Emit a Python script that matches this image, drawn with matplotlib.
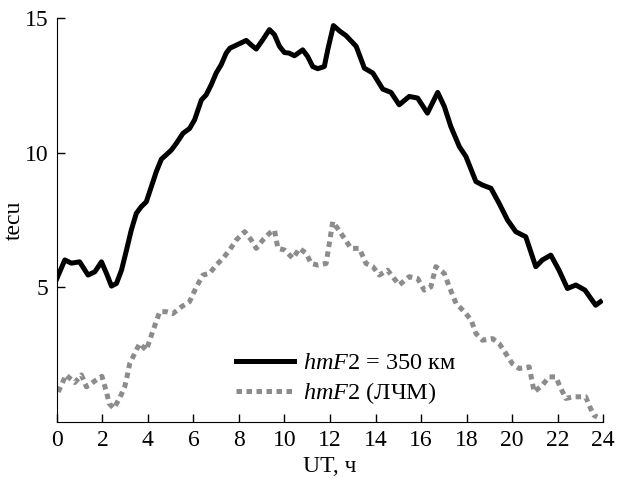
import matplotlib
matplotlib.use("Agg")
import matplotlib.pyplot as plt

plt.rcParams['font.family'] = ['Liberation Serif', 'DejaVu Serif']
plt.rcParams['mathtext.fontset'] = 'custom'
plt.rcParams['mathtext.rm'] = 'Liberation Serif'
plt.rcParams['mathtext.it'] = 'Liberation Serif:italic'

# hmF2 = 350 km
ut_350 = [0.0, 0.35, 0.64, 1.0, 1.37, 1.67, 1.96, 2.18, 2.4, 2.62, 2.84, 3.06, 3.27, 3.49,
          3.71, 3.93, 4.15, 4.37, 4.59, 4.8, 5.03, 5.25, 5.54, 5.83, 6.05, 6.35, 6.56, 6.78,
          7.0, 7.22, 7.44, 7.6, 7.9, 8.32, 8.54, 8.76, 9.05, 9.34, 9.56, 9.78, 10.0, 10.2,
          10.44, 10.8, 11.02, 11.24, 11.46, 11.75, 11.9, 12.15, 12.45, 12.7, 13.15, 13.51,
          13.88, 14.32, 14.68, 15.04, 15.48, 15.85, 16.28, 16.73, 17.02, 17.31, 17.68, 17.97,
          18.41, 18.7, 19.07, 19.43, 19.8, 20.16, 20.6, 21.04, 21.33, 21.7, 22.06, 22.43,
          22.8, 23.2, 23.67, 23.88]
tec_350 = [5.33, 6.02, 5.9, 5.95, 5.46, 5.58, 5.95, 5.52, 5.05, 5.15, 5.64, 6.39, 7.13, 7.75,
           8.0, 8.18, 8.74, 9.3, 9.76, 9.92, 10.1, 10.35, 10.72, 10.9, 11.22, 11.96, 12.15, 12.52,
           12.96, 13.27, 13.7, 13.88, 14.0, 14.17, 14.0, 13.85, 14.2, 14.57, 14.38, 13.95, 13.72, 13.7,
           13.6, 13.82, 13.57, 13.2, 13.12, 13.2, 13.82, 14.72, 14.5, 14.35, 13.95, 13.14,
           12.96, 12.36, 12.24, 11.78, 12.09, 12.03, 11.47, 12.24, 11.72, 10.97, 10.23, 9.86,
           8.93, 8.8, 8.68, 8.12, 7.5, 7.07, 6.88, 5.77, 6.02, 6.2, 5.64, 4.96,
           5.09, 4.9, 4.34, 4.47]

# hmF2 from chirp sounder (ЛЧМ)
ut_lfm = [0.06, 0.4, 0.79, 1.08, 1.3, 1.67, 1.98, 2.18, 2.3, 2.5, 2.76, 2.98, 3.1, 3.2, 3.49,
          3.64, 3.93, 4.23, 4.52, 4.81, 5.1, 5.47, 5.83, 6.13, 6.42, 6.71, 7.0, 7.3, 7.59, 7.88,
          8.25, 8.54, 8.76, 9.05, 9.34, 9.56, 9.71, 10.0, 10.37, 10.66, 10.96, 11.17, 11.46,
          11.83, 11.97, 12.12, 12.45, 12.92, 13.29, 13.58, 13.88, 14.17, 14.53, 15.04, 15.48,
          15.85, 16.14, 16.43, 16.65, 17.02, 17.24, 17.54, 17.9, 18.2, 18.41, 18.7, 19.14,
          19.43, 19.72, 20.01, 20.31, 20.75, 20.97, 21.33, 21.62, 21.92, 22.14, 22.36, 22.72,
          23.23, 23.45, 23.6, 23.74]
tec_lfm = [1.12, 1.75, 1.47, 1.75, 1.31, 1.53, 1.7, 1.12, 0.69, 0.51, 0.89, 1.31, 1.75, 2.17, 2.67,
           2.92, 2.67, 3.41, 4.1, 4.1, 4.03, 4.28, 4.47, 5.02, 5.46, 5.52, 5.83, 6.08, 6.39, 6.76,
           7.07, 6.76, 6.45, 6.76, 7.01, 7.13, 6.45, 6.39, 6.08, 6.45, 6.26, 5.89, 5.83,
           5.89, 6.64, 7.44, 7.05, 6.45, 6.45, 5.89, 5.77, 5.46, 5.64, 5.09, 5.4,
           5.33, 4.9, 5.02, 5.77, 5.52, 5.02, 4.4, 4.1, 3.79, 3.29, 3.04, 3.1,
           2.92, 2.55, 2.17, 1.99, 2.05, 1.12, 1.37, 1.68, 1.68, 1.25, 0.88, 0.94,
           0.94, 0.5, 0.25, 0.19]

xticks = list(range(0, 25, 2))
yticks = [5, 10, 15]

fig = plt.figure(figsize=(6.18, 4.88), dpi=100)
ax = fig.add_axes([0.092, 0.135, 0.884, 0.828])

ax.plot(ut_350, tec_350, color='black', lw=3.6, solid_joinstyle='round',
        label=r'$hmF$2 = 350 км')
ax.plot(ut_lfm, tec_lfm, color='#8c8c8c', lw=3.6, ls=(0, (1.1, 0.9)),
        label=r'$hmF$2 (ЛЧМ)')

ax.set_xlim(0, 24)
ax.set_ylim(0, 15)
ax.set_xticks(xticks)
ax.set_yticks(yticks)
ax.tick_params(direction='in', length=6, width=1, labelsize=17, pad=6)
ax.spines['top'].set_visible(False)
ax.spines['right'].set_visible(False)
ax.set_xlabel('UT, ч', fontsize=17, labelpad=3)
ax.set_ylabel('tecu', fontsize=17)
ax.yaxis.set_label_coords(-0.058, 0.5)

ax.legend(loc='lower left', bbox_to_anchor=(0.31, 0.015), frameon=False, fontsize=17.5,
          handlelength=2.4, handletextpad=0.35, labelspacing=0.25, borderaxespad=0)

fig.savefig('out.png', dpi=100)
